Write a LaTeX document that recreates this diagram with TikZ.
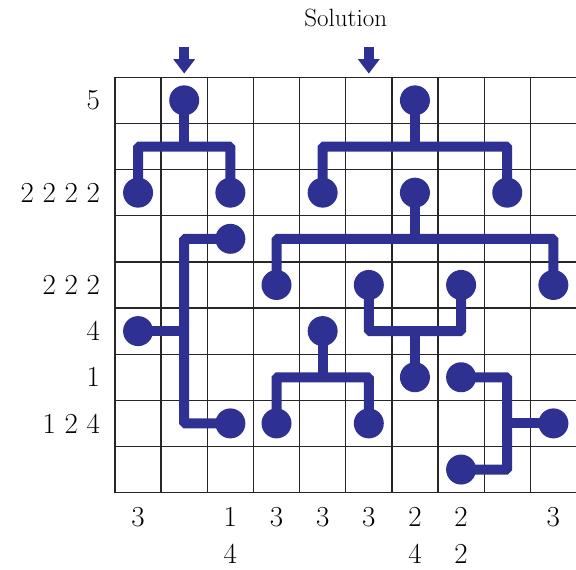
\documentclass[tikz,border=0pt]{standalone}
\usepackage{tikz}
\usepackage{xcolor}
\usetikzlibrary{arrows.meta}
\definecolor{wireblue}{RGB}{46,49,146}

\begin{document}
\begin{tikzpicture}[x=46.15pt,y=-46.15pt,
  gridline/.style={line width=1.3pt,black!85},
  wire/.style={line width=10pt,wireblue,rounded corners=1.5pt},
  dot/.style={circle,fill=wireblue,minimum size=30pt,inner sep=0pt},
  clue/.style={font=\fontsize{29}{35}\selectfont,inner sep=0pt},
  pointer/.style={line width=10pt,wireblue,-{Triangle[width=21pt,length=14.5pt]}}]
\useasboundingbox (-2.492,-1.675) rectangle (9.99,10.676);
\foreach \i in {0,...,10} \draw[gridline] (\i,0) -- (\i,9);
\foreach \j in {0,...,9} \draw[gridline] (0,\j) -- (10,\j);
% title and column pointers
\node[font=\fontsize{25}{30}\selectfont,anchor=base,inner sep=0pt] (title) at (5,-1.096) {Solution};
\draw[pointer] (1.5,-0.66) -- (1.5,-0.08);
\draw[pointer] (5.5,-0.66) -- (5.5,-0.08);
% row clues
\foreach \r/\t in {0/5, 2/2 2 2 2, 4/2 2 2, 5/4, 6/1, 7/1 2 4}
  \node[clue,anchor=east] (row\r) at (-0.32,\r+0.5) {\t};
% column clues
\foreach \c/\t in {0/3, 2/1, 3/3, 4/3, 5/3, 6/2, 7/2, 9/3}
  \node[clue] (colA\c) at (\c+0.5,9.53) {\t};
\foreach \c/\t in {2/4, 6/4, 7/2}
  \node[clue] (colB\c) at (\c+0.5,10.33) {\t};
% junctions
\coordinate (ja) at (1.5,1.5);
\coordinate (jb) at (6.5,1.5);
\coordinate (jc) at (6.5,3.5);
\coordinate (jd) at (1.5,5.5);
\coordinate (je) at (4.5,6.5);
\coordinate (jf) at (6.5,5.5);
\coordinate (jg) at (8.5,7.5);
% wires
\draw[wire] (1.5,0.5) -- (ja);
\draw[wire] (0.5,2.5) |- (ja) -| (2.5,2.5);
\draw[wire] (6.5,0.5) -- (jb);
\draw[wire] (4.5,2.5) |- (jb) -| (8.5,2.5);
\draw[wire] (6.5,2.5) -- (jc);
\draw[wire] (3.5,4.5) |- (jc) -| (9.5,4.5);
\draw[wire] (0.5,5.5) -- (jd);
\draw[wire] (2.5,3.5) -| (jd) |- (2.5,7.5);
\draw[wire] (4.5,5.5) -- (je);
\draw[wire] (3.5,7.5) |- (je) -| (5.5,7.5);
\draw[wire] (6.5,6.5) -- (jf);
\draw[wire] (5.5,4.5) |- (jf) -| (7.5,4.5);
\draw[wire] (9.5,7.5) -- (jg);
\draw[wire] (7.5,6.5) -| (jg) |- (7.5,8.5);
% dots
\foreach \n/\c/\r in {aTop/1/0, aL/0/2, aR/2/2, bTop/6/0, bL/4/2, bR/8/2,
    cTop/6/2, cL/3/4, cR/9/4, dStem/0/5, dUp/2/3, dDown/2/7,
    eTop/4/5, eL/3/7, eR/5/7, fStem/6/6, fL/5/4, fR/7/4,
    gStem/9/7, gUp/7/6, gDown/7/8}
  \node[dot] (\n) at (\c+0.5,\r+0.5) {};
\end{tikzpicture}
\end{document}
